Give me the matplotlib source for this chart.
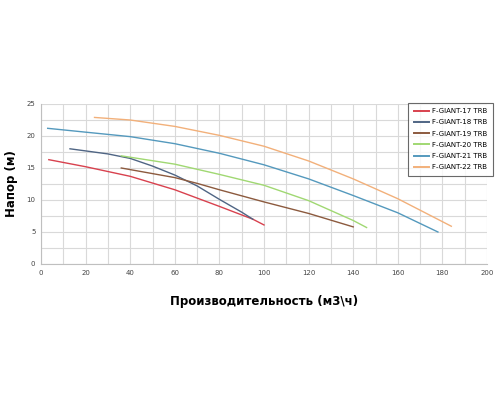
import matplotlib
matplotlib.use("Agg")
import matplotlib.pyplot as plt

names = ["F-GIANT-17 TRB", "F-GIANT-18 TRB", "F-GIANT-19 TRB",
         "F-GIANT-20 TRB", "F-GIANT-21 TRB", "F-GIANT-22 TRB"]
colors = ["#d8414e", "#4f6584", "#8c5a3e", "#a0d872", "#5499bd", "#f2b07a"]

q17 = [3.5, 20, 40, 60, 80, 95, 100]
h17 = [16.3, 15.2, 13.7, 11.6, 9.0, 7.0, 6.1]
q18 = [13, 30, 40, 50, 60, 70, 80, 90, 95]
h18 = [18.0, 17.2, 16.5, 15.3, 13.9, 12.2, 10.1, 8.1, 7.0]
q19 = [36, 60, 70, 80, 100, 120, 140]
h19 = [15.0, 13.5, 12.6, 11.6, 9.7, 7.9, 5.8]
q20 = [36, 60, 80, 100, 120, 140, 146]
h20 = [16.9, 15.6, 14.0, 12.3, 9.9, 6.8, 5.7]
q21 = [3, 20, 40, 60, 80, 100, 120, 140, 160, 178]
h21 = [21.2, 20.6, 19.9, 18.8, 17.3, 15.5, 13.3, 10.7, 8.0, 5.0]
q22 = [24, 40, 60, 80, 100, 120, 140, 160, 184]
h22 = [22.9, 22.5, 21.5, 20.1, 18.4, 16.1, 13.3, 10.2, 5.9]
series_q = [q17, q18, q19, q20, q21, q22]
series_h = [h17, h18, h19, h20, h21, h22]

xticks = [0, 20, 40, 60, 80, 100, 120, 140, 160, 180, 200]
yticks = [0, 5, 10, 15, 20, 25]

fig = plt.figure(figsize=(5, 4), dpi=100)
ax = fig.add_axes([0.082, 0.34, 0.892, 0.40])
for q, h, c, n in zip(series_q, series_h, colors, names):
    ax.plot(q, h, color=c, lw=1.0, label=n)

ax.set_xlim(0, 200)
ax.set_ylim(0, 25)
ax.set_xticks(xticks)
ax.set_yticks(yticks)
ax.set_xticks(range(0, 201, 10), minor=True)
ax.set_yticks([i * 2.5 for i in range(11)], minor=True)
ax.grid(True, which="both", color="#d9d9d9", lw=0.8)
ax.set_axisbelow(True)
ax.tick_params(which="both", length=0, labelsize=5, colors="#444444", pad=4)
for s in ["top", "right"]:
    ax.spines[s].set_visible(False)
for s in ["left", "bottom"]:
    ax.spines[s].set_color("#bfbfbf")

ax.set_ylabel("Напор (м)", fontsize=8.5, fontweight="bold", labelpad=6)
ax.set_xlabel("Производительность (м3\\ч)", fontsize=8.5, fontweight="bold", labelpad=14)

leg = fig.legend(loc="upper left", bbox_to_anchor=(0.81, 0.752), fontsize=5,
                 frameon=True, fancybox=False, handlelength=2.2, borderpad=0.8,
                 labelspacing=0.75, handletextpad=0.4)
leg.get_frame().set_edgecolor("#444444")
leg.get_frame().set_linewidth(0.8)
for line in leg.get_lines():
    line.set_linewidth(1.4)

fig.savefig("out.png", dpi=100, facecolor="white")
